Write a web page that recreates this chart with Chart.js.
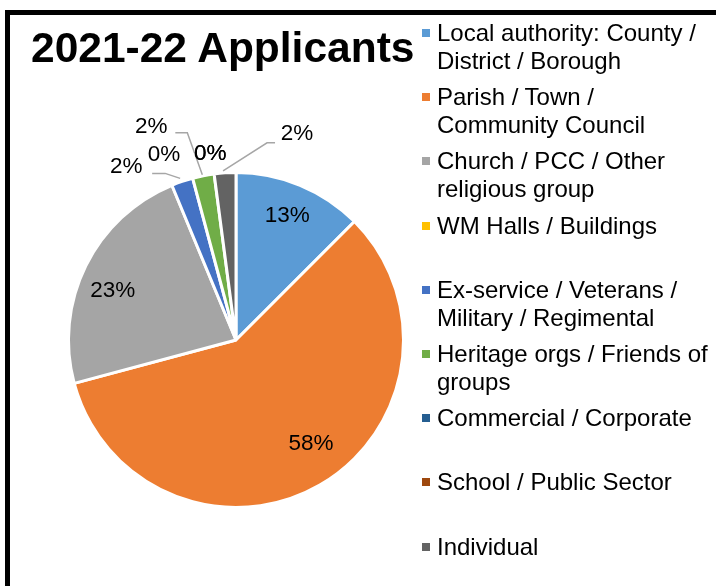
<!DOCTYPE html>
<html>
<head>
<meta charset="utf-8">
<script src="https://cdn.jsdelivr.net/npm/chart.js@4.4.1/dist/chart.umd.min.js"></script>
<style>
  body { margin: 0; background: #fff; font-family: Arial, "Liberation Sans", sans-serif; }
  #wrap { position: relative; width: 716px; height: 586px; overflow: hidden; }
  #pie { position: absolute; left: 0; top: 0; }
  #frame { position: absolute; left: 5px; top: 10px; width: 800px; height: 700px; border: 5px solid #000; box-sizing: border-box; pointer-events: none; }
  #title { position: absolute; left: 31px; top: 23px; font-weight: bold; font-size: 42.5px; line-height: 50px; white-space: nowrap; }
  #legend { position: absolute; left: 422px; top: 0; }
  .item { position: absolute; left: 0; padding-left: 15px; font-size: 24px; line-height: 28px; white-space: nowrap; color: #000; }
  .item i { position: absolute; left: 0; top: 10px; width: 8px; height: 8px; }
</style>
</head>
<body>
<div id="wrap">
  <canvas id="pie" width="716" height="586"></canvas>
  <div id="title">2021-22 Applicants</div>
  <div id="legend"></div>
  <div id="frame"></div>
</div>
<script>
// applicant types (legend lines as shown in the original)
const categories = [
  ['Local authority: County /', 'District / Borough'],
  ['Parish / Town /', 'Community Council'],
  ['Church / PCC / Other', 'religious group'],
  ['WM Halls / Buildings'],
  ['Ex-service / Veterans /', 'Military / Regimental'],
  ['Heritage orgs / Friends of', 'groups'],
  ['Commercial / Corporate'],
  ['School / Public Sector'],
  ['Individual']
];
// number of applicants per type
const applicants = [6, 28, 11, 0, 1, 1, 0, 0, 1];

const sliceColours = ['#5b9bd5', '#ed7d31', '#a5a5a5', '#ffc000', '#4472c4', '#70ad47', '#255e91', '#9e480e', '#636363'];

// small nudges for the labels drawn inside the big slices
const insideNudge = { 1: [8, -12], 2: [-3, 10] };
// where the small-slice labels sit, relative to the outer edge of their slice
const outsideLabels = {
  3: { dx: -8, dy: -30 },
  4: { dx: -56, dy: -15, leader: [[-2, -3], [-17, -8], [-30, -8]] },
  5: { dx: -52, dy: -49, leader: [[-1, -1], [-16, -43], [-28, -43]] },
  6: { dx: -4, dy: -20 },
  7: { dx: -4, dy: -20 },
  8: { dx: 72, dy: -39, leader: [[-2, -2], [42, -30], [50, -30]] }
};

// legend, built from the same arrays
const legendEl = document.getElementById('legend');
categories.forEach((lines, i) => {
  const item = document.createElement('div');
  item.className = 'item';
  item.style.top = (19 + i * 64.2) + 'px';
  const box = document.createElement('i');
  box.style.background = sliceColours[i];
  item.appendChild(box);
  lines.forEach((line, j) => {
    if (j) item.appendChild(document.createElement('br'));
    item.appendChild(document.createTextNode(line));
  });
  legendEl.appendChild(item);
});

const pieLabels = {
  id: 'pieLabels',
  afterDatasetsDraw(chart) {
    const ctx = chart.ctx;
    const meta = chart.getDatasetMeta(0);
    const total = applicants.reduce((a, b) => a + b, 0);
    ctx.save();
    ctx.font = '22.5px Arial, "Liberation Sans", sans-serif';
    ctx.textAlign = 'center';
    ctx.textBaseline = 'middle';
    ctx.fillStyle = '#000';
    ctx.strokeStyle = '#a6a6a6';
    ctx.lineWidth = 1.5;
    meta.data.forEach((arc, i) => {
      const { x, y, startAngle, endAngle, outerRadius } =
        arc.getProps(['x', 'y', 'startAngle', 'endAngle', 'outerRadius'], true);
      const mid = (startAngle + endAngle) / 2;
      const text = Math.round(applicants[i] / total * 100) + '%';
      const place = outsideLabels[i];
      if (!place) {
        const [nx, ny] = insideNudge[i] || [0, 0];
        ctx.fillText(text, x + Math.cos(mid) * outerRadius * 0.8 + nx, y + Math.sin(mid) * outerRadius * 0.8 + ny);
        return;
      }
      const ex = x + Math.cos(mid) * outerRadius;
      const ey = y + Math.sin(mid) * outerRadius;
      if (place.leader) {
        ctx.beginPath();
        place.leader.forEach(([px, py], k) => {
          if (k) ctx.lineTo(ex + px, ey + py); else ctx.moveTo(ex + px, ey + py);
        });
        ctx.stroke();
      }
      ctx.fillText(text, ex + place.dx, ey + place.dy);
    });
    ctx.restore();
  }
};

new Chart(document.getElementById('pie'), {
  type: 'pie',
  data: {
    labels: categories.map(lines => lines.join(' ')),
    datasets: [{
      data: applicants,
      backgroundColor: sliceColours,
      borderColor: '#ffffff',
      borderWidth: 3
    }]
  },
  options: {
    responsive: false,
    animation: false,
    layout: { padding: { left: 67, right: 311, top: 171, bottom: 77 } },
    plugins: {
      legend: { display: false },
      tooltip: { enabled: false },
      title: { display: false }
    }
  },
  plugins: [pieLabels]
});
</script>
</body>
</html>
